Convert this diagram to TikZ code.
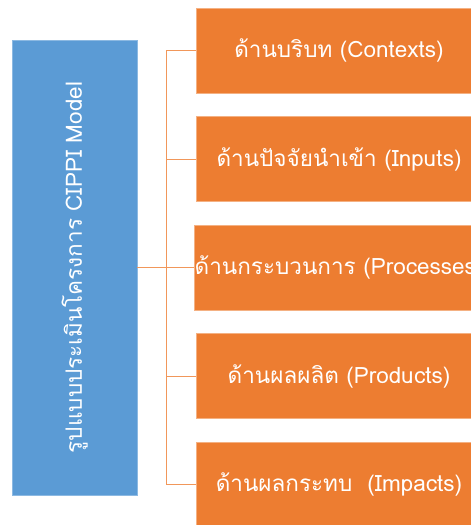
\documentclass[tikz,border=0pt]{standalone}
\usepackage{fontspec}
\setmainfont[Script=Thai]{Loma}
\definecolor{cblue}{HTML}{5B9BD5}
\definecolor{corange}{HTML}{ED7D31}
\definecolor{cedge}{HTML}{F4B183}
\begin{document}
\begin{tikzpicture}[x=1pt,y=-1pt,
  sidebox/.style={draw=cedge,line width=0.8pt,fill=corange,text=white,minimum width=286pt,minimum height=85pt,inner sep=0pt,font=\fontsize{22.5}{26}\selectfont},
  mainbox/.style={draw=cblue!70!white,line width=0.6pt,fill=cblue,text=white,minimum width=124.5pt,minimum height=455pt,inner sep=0pt},
  link/.style={draw=corange!80!white,line width=1pt}]
\useasboundingbox (0,0) rectangle (471,525);
\begin{scope}
\clip (0,0) rectangle (471,525);
\node[mainbox] (m) at (74.75,267.5) {};
\node[rotate=90,text=white,font=\fontsize{22.5}{26}\selectfont] (mt) at (m.center) {รูปแบบประเมินโครงการ CIPPI Model};
\node[sidebox] (b1) at (339,50.5) {ด้านบริบท (Contexts)};
\node[sidebox] (b2) at (339,159) {ด้านปัจจัยนำเข้า (Inputs)};
\node[sidebox] (b3) at (339,267.5) {ด้านกระบวนการ (Processes)};
\node[sidebox] (b4) at (339,376) {ด้านผลผลิต (Products)};
\node[sidebox] (b5) at (339,484.5) {ด้านผลกระทบ~~(Impacts)};
\coordinate (s1) at (166,50.5);
\coordinate (s2) at (166,159);
\coordinate (s3) at (166,267.5);
\coordinate (s4) at (166,376);
\coordinate (s5) at (166,484.5);
\draw[link,line width=1.6pt] (m.east) -- (s3);
\draw[link] (s1) -- (s5);
\foreach \i in {1,...,5} \draw[link] (s\i) -- (b\i.west);
\end{scope}
\end{tikzpicture}
\end{document}
